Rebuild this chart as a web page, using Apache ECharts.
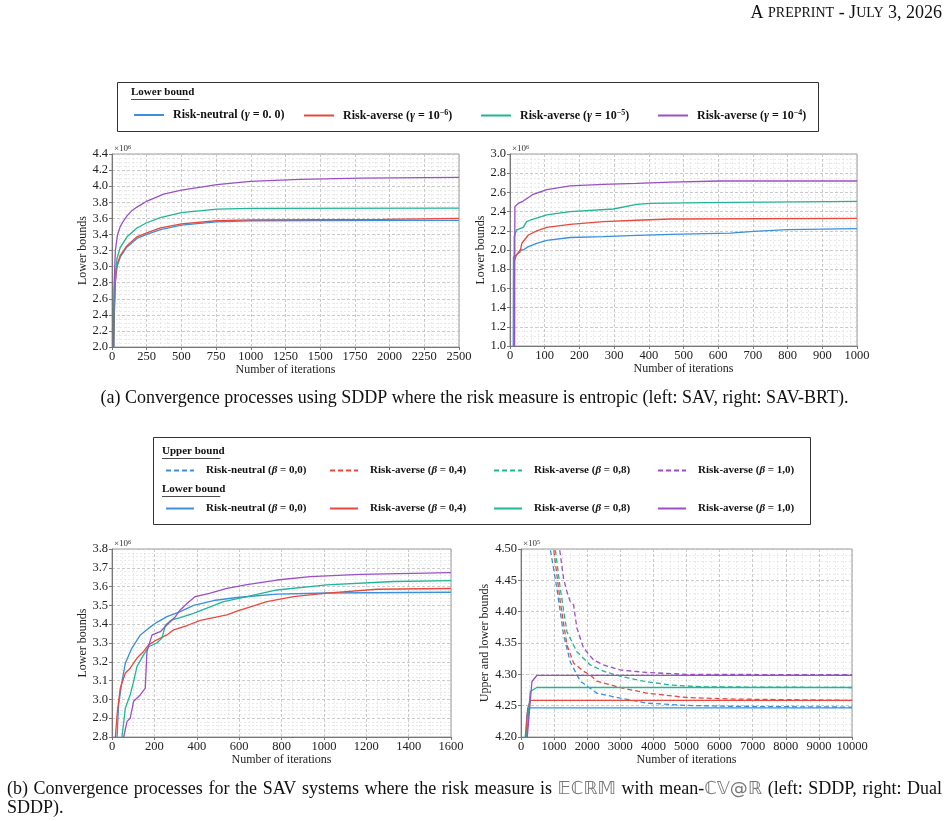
<!DOCTYPE html>
<html>
<head>
<meta charset="utf-8">
<script src="https://cdn.jsdelivr.net/npm/echarts@6/dist/echarts.min.js"></script>
<style>
  html, body { margin: 0; padding: 0; background: #fff; }
  #page { width: 949px; height: 821px; }
</style>
</head>
<body>
<div id="page"></div>
<script>
// ---- data (values in axis units, i.e. x10^6 / x10^5 as on the plots) ----
// (a) left: SAV, entropic
var tlNeutral = [[10,1.5],[12,2.0],[18,2.5],[24,2.8],[36,3.0],[60,3.12],[108,3.245],[180,3.35],[250,3.40],[350,3.46],[500,3.515],[750,3.555],[1000,3.57],[1500,3.573],[2500,3.574]];
var tlAverse6 = [[10,1.5],[12,2.0],[18,2.5],[24,2.82],[36,3.02],[60,3.14],[108,3.26],[180,3.37],[250,3.42],[350,3.48],[500,3.53],[750,3.57],[1000,3.58],[1500,3.585],[1950,3.587],[1960,3.60],[2500,3.60]];
var tlAverse5 = [[10,1.5],[12,2.0],[16,2.5],[24,2.9],[36,3.1],[60,3.24],[108,3.37],[180,3.48],[250,3.545],[348,3.61],[500,3.67],[756,3.715],[1000,3.725],[2500,3.727]];
var tlAverse4 = [[8,1.5],[10,2.0],[14,2.7],[24,3.2],[40,3.4],[60,3.5],[80,3.56],[108,3.63],[140,3.69],[180,3.74],[252,3.815],[372,3.90],[500,3.95],[756,4.02],[996,4.06],[1356,4.085],[1787,4.10],[2500,4.11]];

// (a) right: SAV-BRT, entropic
var trNeutral = [[9,0.5],[10,1.93],[19,1.95],[29,2.0],[38,2.0],[53,2.035],[77,2.07],[106,2.10],[173,2.13],[269,2.14],[365,2.153],[462,2.163],[635,2.175],[702,2.195],[798,2.212],[1000,2.222]];
var trAverse6 = [[11,0.5],[12,1.88],[19,1.95],[29,1.98],[34,2.07],[53,2.156],[77,2.20],[106,2.236],[173,2.267],[269,2.295],[365,2.31],[462,2.323],[1000,2.33]];
var trAverse5 = [[11,0.5],[12,2.14],[19,2.21],[38,2.236],[48,2.295],[58,2.31],[106,2.365],[173,2.40],[298,2.427],[365,2.476],[404,2.486],[558,2.493],[1000,2.507]];
var trAverse4 = [[13,0.5],[14,2.45],[24,2.486],[38,2.51],[67,2.58],[106,2.63],[173,2.667],[269,2.684],[365,2.694],[462,2.708],[606,2.719],[1000,2.719]];

// (b) left: SDDP, mean-CV@R lower bounds
var blNeutral = [[20,2.6],[24,2.8],[31,2.97],[47,3.096],[63,3.193],[94,3.273],[134,3.343],[173,3.379],[212,3.41],[259,3.44],[322,3.467],[385,3.50],[480,3.526],[590,3.542],[778,3.56],[1014,3.566],[1600,3.57]];
var blAverse4 = [[14,2.6],[16,2.8],[24,2.92],[39,3.06],[63,3.14],[86,3.166],[118,3.22],[149,3.255],[173,3.29],[212,3.317],[259,3.343],[291,3.37],[354,3.393],[417,3.42],[542,3.45],[590,3.47],[731,3.52],[857,3.547],[1014,3.565],[1250,3.586],[1600,3.59]];
var blAverse8 = [[45,2.6],[47,2.8],[63,2.954],[86,3.025],[102,3.096],[118,3.175],[149,3.237],[173,3.28],[212,3.30],[236,3.326],[252,3.396],[283,3.423],[322,3.435],[385,3.458],[448,3.485],[527,3.52],[637,3.547],[778,3.582],[1014,3.609],[1329,3.627],[1600,3.632]];
var blAverse10 = [[53,2.6],[55,2.8],[71,2.883],[86,2.90],[102,2.99],[134,3.025],[157,3.06],[165,3.255],[189,3.343],[228,3.36],[259,3.396],[299,3.44],[322,3.476],[354,3.51],[393,3.547],[464,3.565],[542,3.59],[637,3.61],[778,3.635],[936,3.653],[1171,3.665],[1600,3.674]];

// (b) right: Dual SDDP, upper and lower bounds
var brNeutralUB = [[800,4.6],[884,4.50],[1085,4.437],[1286,4.363],[1487,4.320],[1789,4.289],[2291,4.270],[2995,4.262],[3799,4.254],[5005,4.2504],[6513,4.2488],[10000,4.2477]];
var brAverse4UB = [[900,4.6],[985,4.50],[1186,4.416],[1387,4.347],[1588,4.318],[1889,4.305],[2090,4.299],[2291,4.289],[2995,4.279],[3799,4.270],[5005,4.263],[6513,4.2605],[10000,4.2584]];
var brAverse8UB = [[950,4.6],[1035,4.50],[1186,4.437],[1387,4.368],[1688,4.336],[2090,4.315],[2492,4.305],[2995,4.297],[3698,4.289],[4502,4.283],[5508,4.280],[10000,4.279]];
var brAverse10UB = [[1100,4.6],[1166,4.50],[1286,4.453],[1387,4.432],[1487,4.416],[1588,4.411],[1688,4.374],[1889,4.342],[2191,4.323],[2492,4.315],[2995,4.307],[3799,4.303],[5005,4.300],[10000,4.2993]];
var brNeutralLB = [[100,4.1],[130,4.20],[180,4.235],[230,4.2465],[10000,4.2465]];
var brAverse4LB = [[120,4.1],[150,4.20],[200,4.245],[280,4.2584],[10000,4.2584]];
var brAverse8LB = [[140,4.1],[170,4.20],[280,4.2727],[480,4.279],[10000,4.279]];
var brAverse10LB = [[160,4.1],[190,4.20],[330,4.2886],[480,4.2982],[10000,4.2982]];

var colors = ['#3b8fdc', '#e9493d', '#20b594', '#9a4fc5'];
var gammaNames = ['Risk-neutral (γ = 0.0)', 'Risk-averse (γ = 1e-6)', 'Risk-averse (γ = 1e-5)', 'Risk-averse (γ = 1e-4)'];
var gammaLabels = [
  '{b|Risk-neutral (}{i|γ}{b| = 0. 0)}',
  '{b|Risk-averse (}{i|γ}{b| = 10}{s|−6}{b|)}',
  '{b|Risk-averse (}{i|γ}{b| = 10}{s|−5}{b|)}',
  '{b|Risk-averse (}{i|γ}{b| = 10}{s|−4}{b|)}'
];
var betaValues = ['0,0', '0,4', '0,8', '1,0'];
var betaKinds = ['Risk-neutral', 'Risk-averse', 'Risk-averse', 'Risk-averse'];

var serif = '"Liberation Serif", "DejaVu Serif", serif';

var labelMap = {};
gammaNames.forEach(function (n, i) { labelMap[n] = gammaLabels[i]; });
var ubNames = [], lbNames = [];
betaValues.forEach(function (b, i) {
  var lab = '{b|' + betaKinds[i] + ' (}{i|β}{b| = ' + b + ')}';
  ubNames.push('UB ' + betaKinds[i] + ' β=' + b);
  lbNames.push('LB ' + betaKinds[i] + ' β=' + b);
  labelMap[ubNames[i]] = lab;
  labelMap[lbNames[i]] = lab;
});

// ---- layout of the four panels ----
var grids = [
  { left: 112, top: 154, width: 347, height: 193 },
  { left: 510, top: 154, width: 347, height: 192 },
  { left: 112, top: 549, width: 339, height: 188 },
  { left: 521, top: 549, width: 331, height: 188 }
];
grids.forEach(function (g) {
  g.show = true;
  g.borderColor = '#9a9a9a';
  g.borderWidth = 1;
  g.backgroundColor = '#fff';
});

function xAxisFor(idx, max, interval, minorSplit) {
  return {
    type: 'value', gridIndex: idx, min: 0, max: max, interval: interval,
    name: 'Number of iterations', nameLocation: 'middle', nameGap: 15,
    nameTextStyle: { fontFamily: serif, fontSize: 12, color: '#222' },
    axisLine: { show: true, lineStyle: { color: '#777' } },
    axisTick: { show: true, length: 3, lineStyle: { color: '#777' } },
    axisLabel: { fontFamily: serif, fontSize: 12.5, color: '#222', margin: 3, formatter: function (v) { return String(v); } },
    splitLine: { show: true, lineStyle: { color: '#bdbdbd', type: [3, 2], width: 0.8 } },
    minorTick: { show: false, splitNumber: minorSplit },
    minorSplitLine: { show: true, lineStyle: { color: '#e2e2e2', type: [2, 2], width: 0.7 } }
  };
}

function yAxisFor(idx, min, max, interval, decimals, name, minorSplit, gap) {
  return {
    type: 'value', gridIndex: idx, min: min, max: max, interval: interval,
    name: name, nameLocation: 'middle', nameGap: gap,
    nameTextStyle: { fontFamily: serif, fontSize: 12, color: '#222' },
    axisLine: { show: true, lineStyle: { color: '#777' } },
    axisTick: { show: true, length: 3, lineStyle: { color: '#777' } },
    axisLabel: {
      fontFamily: serif, fontSize: 12.5, color: '#222', margin: 4,
      formatter: function (v) { return v.toFixed(decimals); }
    },
    splitLine: { show: true, lineStyle: { color: '#bdbdbd', type: [3, 2], width: 0.8 } },
    minorTick: { show: false, splitNumber: minorSplit },
    minorSplitLine: { show: true, lineStyle: { color: '#e2e2e2', type: [2, 2], width: 0.7 } }
  };
}

var xAxes = [
  xAxisFor(0, 2500, 250, 5),
  xAxisFor(1, 1000, 100, 5),
  xAxisFor(2, 1600, 200, 4),
  xAxisFor(3, 10000, 1000, 4)
];
var yAxes = [
  yAxisFor(0, 2.0, 4.4, 0.2, 1, 'Lower bounds', 4, 22),
  yAxisFor(1, 1.0, 3.0, 0.2, 1, 'Lower bounds', 4, 22),
  yAxisFor(2, 2.8, 3.8, 0.1, 1, 'Lower bounds', 5, 22),
  yAxisFor(3, 4.20, 4.50, 0.05, 2, 'Upper and lower bounds', 5, 29)
];

function line(name, idx, data, color, dashed) {
  return {
    name: name, type: 'line', xAxisIndex: idx, yAxisIndex: idx,
    data: data, symbol: 'none', clip: true, animation: false,
    lineStyle: { color: color, width: 1.3, type: dashed ? [5, 3] : 'solid' },
    itemStyle: { color: color }
  };
}

var series = [];
[tlNeutral, tlAverse6, tlAverse5, tlAverse4].forEach(function (d, i) {
  series.push(line(gammaNames[i], 0, d, colors[i], false));
});
[trNeutral, trAverse6, trAverse5, trAverse4].forEach(function (d, i) {
  series.push(line(gammaNames[i], 1, d, colors[i], false));
});
[blNeutral, blAverse4, blAverse8, blAverse10].forEach(function (d, i) {
  series.push(line(lbNames[i], 2, d, colors[i], false));
});
[brNeutralUB, brAverse4UB, brAverse8UB, brAverse10UB].forEach(function (d, i) {
  series.push(line(ubNames[i], 3, d, colors[i], true));
});
[brNeutralLB, brAverse4LB, brAverse8LB, brAverse10LB].forEach(function (d, i) {
  series.push(line(lbNames[i], 3, d, colors[i], false));
});

// ---- legends: one component per entry so each sits where the figure has it ----
function legendRich(size) {
  return {
    b: { fontFamily: serif, fontWeight: 'bold', fontSize: size, color: '#111' },
    i: { fontFamily: serif, fontWeight: 'bold', fontStyle: 'italic', fontSize: size, color: '#111' },
    s: { fontFamily: serif, fontWeight: 'bold', fontSize: size - 4, color: '#111', verticalAlign: 'top', padding: [0, 0, 5, 0] }
  };
}
var legends = [];
function addLegend(name, left, top, w, gap, size) {
  legends.push({
    left: left, top: top, data: [name], itemWidth: w, itemHeight: 10,
    padding: 0, selectedMode: false,
    itemStyle: { opacity: 0 },
    formatter: function (n) { return labelMap[n]; },
    textStyle: { padding: [0, 0, 0, gap], rich: legendRich(size) }
  });
}
var topLegendX = [133, 303, 480, 657];
gammaNames.forEach(function (n, i) { addLegend(n, topLegendX[i], 109, 30, 4, 12); });
var botLegendX = [165, 329, 493, 657];
ubNames.forEach(function (n, i) { addLegend(n, botLegendX[i], 465, 28, 7, 11); });
lbNames.forEach(function (n, i) { addLegend(n, botLegendX[i], 503, 28, 7, 11); });

// ---- page furniture: header, legend boxes, captions, exponent marks ----
var captionFont = '18px ' + serif;
var dsFont = '18px "DejaVu Sans", sans-serif';
function txt(x, y, text, style) {
  return { type: 'text', left: x, top: y, style: Object.assign({ text: text, font: captionFont, fill: '#111' }, style || {}) };
}
function underlined(x, y, text) {
  return [
    txt(x, y, text, { font: 'bold 11px ' + serif }),
    { type: 'rect', shape: { x: x, y: y + 12, width: text.length * 5.3, height: 0.8 }, style: { fill: '#111' } }
  ];
}
var graphics = [
  {
    type: 'text', right: 7, top: 4,
    style: {
      text: '{L|A }{S|PREPRINT}{L| - J}{S|ULY}{L| 3, 2026}',
      rich: {
        L: { font: '18px ' + serif, fill: '#111' },
        S: { font: '14px ' + serif, fill: '#111' }
      }
    }
  },
  { type: 'rect', shape: { x: 117.5, y: 82.5, width: 701, height: 49 }, style: { fill: 'none', stroke: '#333', lineWidth: 1 } },
  { type: 'rect', shape: { x: 153.5, y: 437.5, width: 657, height: 87 }, style: { fill: 'none', stroke: '#333', lineWidth: 1 } }
];
graphics = graphics.concat(underlined(131, 87, 'Lower bound'));
graphics = graphics.concat(underlined(162, 446, 'Upper bound'));
graphics = graphics.concat(underlined(162, 484, 'Lower bound'));
var expMarks = [[114, 144, '6'], [512, 144, '6'], [114, 539, '6'], [523, 539, '5']];
expMarks.forEach(function (m) {
  graphics.push({
    type: 'text', left: m[0], top: m[1],
    style: {
      text: '{a|×10}{e|' + m[2] + '}',
      rich: {
        a: { font: '9px ' + serif, fill: '#333' },
        e: { font: '6px ' + serif, fill: '#333', verticalAlign: 'top', padding: [0, 0, 4, 0] }
      }
    }
  });
});
graphics.push({
  type: 'text', left: 'center', top: 389,
  style: { text: '(a) Convergence processes using SDDP where the risk measure is entropic (left: SAV, right: SAV-BRT).', font: captionFont, fill: '#111' }
});

// caption (b), first line justified between x=7 and x=942 like the typeset page
var capWords = ['(b)', 'Convergence', 'processes', 'for', 'the', 'SAV', 'systems', 'where', 'the', 'risk', 'measure', 'is',
  '#𝔼ℂℝ𝕄', 'with', 'mean-#ℂ𝕍@ℝ', '(left:', 'SDDP,', 'right:', 'Dual'];
var ctx = document.createElement('canvas').getContext('2d');
function measure(s, font) { ctx.font = font; return ctx.measureText(s).width; }
function pieces(w) {
  // split a word into [text, isDoubleStruck] runs
  var out = [];
  if (w.indexOf('#') < 0) { out.push([w, false]); return out; }
  var parts = w.split('#');
  if (parts[0]) out.push([parts[0], false]);
  out.push([parts[1], true]);
  return out;
}
var widths = capWords.map(function (w) {
  return pieces(w).reduce(function (s, p) { return s + measure(p[0], p[1] ? dsFont : captionFont); }, 0);
});
var totalW = widths.reduce(function (a, b) { return a + b; }, 0);
var space = (942 - 7 - totalW) / (capWords.length - 1);
var cx = 7;
capWords.forEach(function (w, i) {
  pieces(w).forEach(function (p) {
    var f = p[1] ? dsFont : captionFont;
    graphics.push(txt(cx, 780, p[0], { font: f, fill: p[1] ? '#777' : '#111' }));
    cx += measure(p[0], f);
  });
  cx += space;
});
graphics.push(txt(7, 799, 'SDDP).'));

var chart = echarts.init(document.getElementById('page'), null, { renderer: 'canvas' });
chart.setOption({
  animation: false,
  backgroundColor: '#fff',
  grid: grids,
  xAxis: xAxes,
  yAxis: yAxes,
  legend: legends,
  series: series,
  graphic: graphics
});
</script>
</body>
</html>
